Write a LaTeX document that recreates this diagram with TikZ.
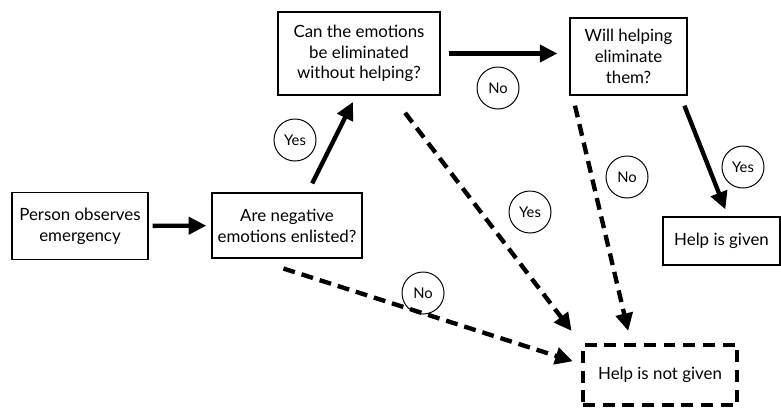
\documentclass[tikz,border=0pt]{standalone}
\usepackage{fontspec}
\setmainfont{Lato}
\usepackage{tikz}
\usetikzlibrary{arrows.meta,positioning}

\begin{document}
\begin{tikzpicture}[
    x=0.025cm, y=-0.025cm,
    box/.style={rectangle, draw, line width=0.9pt, inner sep=0pt, align=center, font=\fontsize{12}{14.8}\selectfont},
    answer/.style={circle, draw, line width=0.7pt, minimum size=1.05cm, inner sep=0pt, font=\fontsize{10.5}{12}\selectfont},
    yesline/.style={line width=3.1pt, -{Triangle[length=12.5pt,width=12pt]}},
    noline/.style={yesline, dash pattern=on 8.5pt off 5pt},
]
    \useasboundingbox (0,0) rectangle (781,408);
    \node[box, minimum width=3.4cm, minimum height=1.675cm] (observe) at (80,226) {Person observes\\emergency};
    \node[box, minimum width=3.75cm, minimum height=1.625cm] (enlisted) at (287,225.5) {Are negative\\emotions enlisted?};
    \node[box, minimum width=4.05cm, minimum height=2.075cm] (without) at (359,53.5) {Can the emotions\\be eliminated\\without helping?};
    \node[box, minimum width=2.925cm, minimum height=1.925cm] (willhelp) at (628.5,56.5) {Will helping\\eliminate\\them?};
    \node[box, minimum width=2.925cm, minimum height=1.2cm] (given) at (721.5,241) {Help is given};
    \node[box, minimum width=3.85cm, minimum height=1.5cm, line width=3.1pt, dash pattern=on 8.5pt off 5.5pt] (notgiven) at (660,375) {Help is not given};

    \node[answer] (yes1) at (295,140) {Yes};
    \node[answer] (no1) at (498,88) {No};
    \node[answer] (yes2) at (530,212) {Yes};
    \node[answer] (no2) at (627,177) {No};
    \node[answer] (yes3) at (743,167) {Yes};
    \node[answer] (no3) at (423,293) {No};

    \draw[yesline, shorten <=2.8pt, shorten >=3.6pt] (observe) -- (enlisted);
    \draw[yesline, shorten <=7.1pt, shorten >=5pt] (enlisted.58) -- (without.266);
    \draw[yesline, shorten <=5.7pt, shorten >=8.5pt] (without.east) -- (without.east -| willhelp.west);
    \draw[yesline, shorten <=7.7pt, shorten >=5.3pt] (willhelp.323) -- (given.75);
    \draw[noline, shorten <=15.4pt, shorten >=10.8pt] (without.308) -- (notgiven.158);
    \draw[noline, shorten <=7.3pt, shorten >=8.7pt] (willhelp.215) -- (notgiven.132);
    \draw[noline, shorten <=23pt, shorten >=6pt] (enlisted.224) -- (notgiven.172);
\end{tikzpicture}
\end{document}
